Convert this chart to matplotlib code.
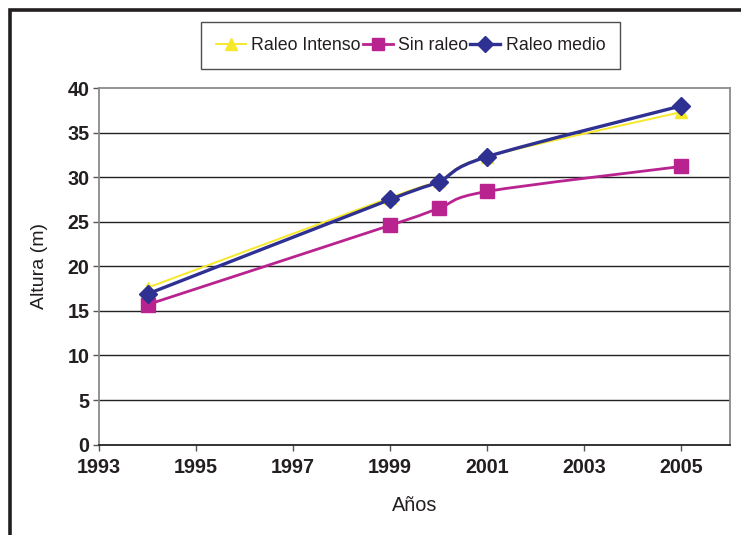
import numpy as np
import matplotlib
matplotlib.use("Agg")
import matplotlib.pyplot as plt
from matplotlib.path import Path
from matplotlib.patches import PathPatch
from matplotlib.lines import Line2D

# Measured heights (m) by year
years = [1994, 1999, 2000, 2001, 2005]
raleo_intenso = [17.6, 27.7, 29.6, 32.3, 37.3]
sin_raleo = [15.7, 24.6, 26.5, 28.4, 31.2]
raleo_medio = [16.9, 27.5, 29.5, 32.3, 38.0]

x_ticks = [1993, 1995, 1997, 1999, 2001, 2003, 2005]
y_ticks = [0, 5, 10, 15, 20, 25, 30, 35, 40]

plt.rcParams['font.family'] = ['Liberation Sans', 'DejaVu Sans']

W, H = 741, 535
fig = plt.figure(figsize=(W / 100, H / 100), dpi=100)
fig.patch.set_facecolor('white')

left, right, top, bottom = 99, 730, 88, 444.6
ax = fig.add_axes([left / W, 1 - bottom / H, (right - left) / W, (bottom - top) / H])
ax.set_xlim(1993, 2006)
ax.set_ylim(0, 40)

ax.set_yticks(y_ticks)
ax.set_xticks(x_ticks)
ax.set_yticklabels([str(v) for v in y_ticks], fontsize=14.2, fontweight='bold', color='#231f20')
ax.set_xticklabels([str(v) for v in x_ticks], fontsize=14.2, fontweight='bold', color='#231f20')
ax.tick_params(axis='both', direction='out', length=4, width=1, color='#555555', pad=3)
ax.tick_params(axis='x', pad=6)

for v in y_ticks[1:-1]:
    ax.axhline(v, color='#222222', lw=1.0, zorder=1)

for side in ['left', 'top', 'right']:
    ax.spines[side].set_color('#8a8a8a')
    ax.spines[side].set_linewidth(1.3)
ax.spines['bottom'].set_color('#222222')
ax.spines['bottom'].set_linewidth(1.3)

ax.set_ylabel('Altura (m)', fontsize=14, color='#231f20', labelpad=14)
ax.set_xlabel('Años', fontsize=14.3, color='#231f20', labelpad=13.5)


def smooth_path(xs, ys):
    """Excel-style smoothed line: cubic Bezier segments with Catmull-Rom tangents in display space."""
    pts = ax.transData.transform(np.column_stack([xs, ys]))
    n = len(pts)
    verts = [pts[0]]
    codes = [Path.MOVETO]
    for i in range(n - 1):
        p0 = pts[i - 1] if i > 0 else pts[i]
        p1 = pts[i]
        p2 = pts[i + 1]
        p3 = pts[i + 2] if i + 2 < n else pts[i + 1]
        c1 = p1 + (p2 - p0) / 6.0
        c2 = p2 - (p3 - p1) / 6.0
        verts += [c1, c2, p2]
        codes += [Path.CURVE4] * 3
    data_verts = ax.transData.inverted().transform(np.array(verts))
    return Path(data_verts, codes)


series = [
    ('Raleo Intenso', raleo_intenso, '#f7e82a', 1.4, '^', 9),
    ('Sin raleo', sin_raleo, '#b8238f', 2.0, 's', 10),
    ('Raleo medio', raleo_medio, '#2e3192', 2.4, 'D', 9),
]

handles = []
for k, (name, vals, col, lw, mk, ms) in enumerate(series):
    patch = PathPatch(smooth_path(years, vals), facecolor='none', edgecolor=col,
                      lw=lw, zorder=3 + k, capstyle='round', joinstyle='round')
    ax.add_patch(patch)
    ax.plot(years, vals, linestyle='none', marker=mk, markersize=ms,
            markerfacecolor=col, markeredgecolor=col, zorder=6 + k, clip_on=False)
    handles.append(Line2D([], [], color=col, lw=lw, marker=mk, markersize=ms * 0.9,
                          markerfacecolor=col, markeredgecolor=col))

leg = fig.legend(handles, [s[0] for s in series], loc='center',
                 bbox_to_anchor=(410.5 / W, 1 - 45.5 / H), ncol=3, fontsize=12.8,
                 frameon=True, fancybox=False, handlelength=1.7, handletextpad=0.3,
                 columnspacing=0.1, borderpad=0.82, borderaxespad=0)
leg.get_frame().set_edgecolor('#222222')
leg.get_frame().set_linewidth(1.0)
for t in leg.get_texts():
    t.set_color('#231f20')

# Outer chart frame (runs past the right and bottom edges)
fig.add_artist(Line2D([9.5 / W, 9.5 / W, 1.0], [0.0, 1 - 10 / H, 1 - 10 / H],
                      transform=fig.transFigure, color='#231f20', lw=2.6,
                      solid_joinstyle='miter'))

fig.savefig('out.png', dpi=100, facecolor='white')
